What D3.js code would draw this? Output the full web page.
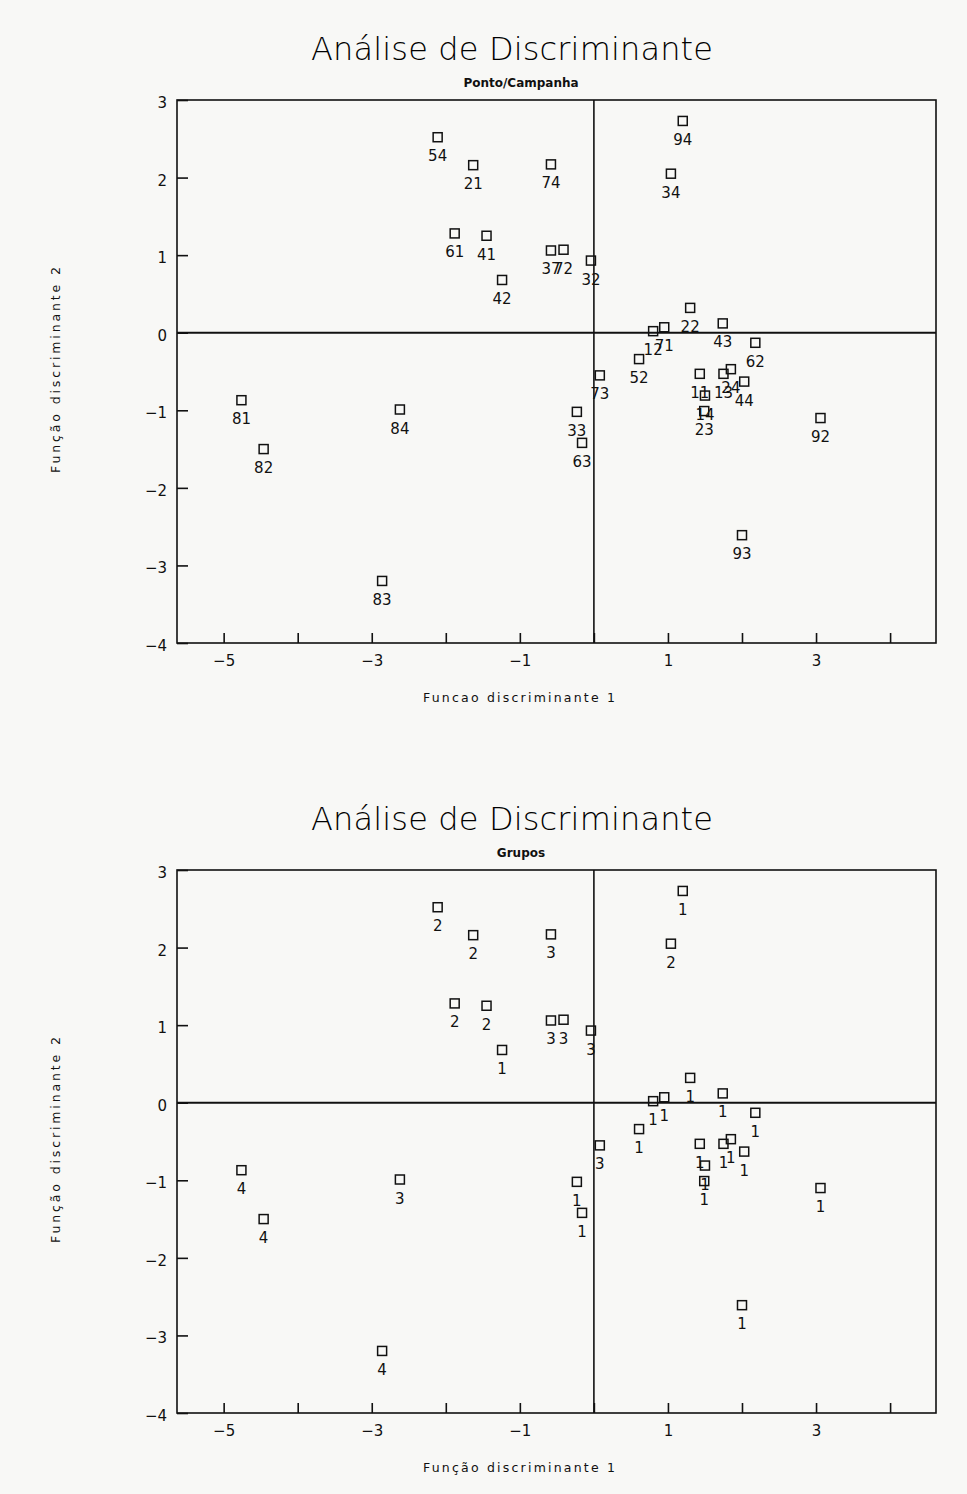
<!DOCTYPE html>
<meta charset="utf-8">
<style>
  body { margin: 0; background: #f8f8f6; }
  svg text { font-family: "DejaVu Sans", sans-serif; fill: #111; }
  .frame, .zero { fill: none; stroke: #111; stroke-width: 1.6px; }
  .axis path { display: none; }
  .axis line { stroke: #111; stroke-width: 1.6px; }
  .axis text { font-size: 15px; fill: #111; }
  .pt rect { fill: none; stroke: #111; stroke-width: 1.5px; }
  .pt text { font-size: 15px; text-anchor: middle; }
  .title { font-size: 32px; font-weight: 200; text-anchor: middle; fill: #000; }
  .sub { font-size: 12px; font-weight: bold; text-anchor: middle; }
  .atitle { font-size: 12.5px; text-anchor: middle; }
</style>
<body>
<script src="https://d3js.org/d3.v7.min.js"></script>
<script>

// point codes (ponto/campanha), discriminant scores and group
var codes  = ["54","21","74","61","41","37","72","32","42","94","34","22","43","12","71","62",
              "52","73","11","13","24","44","14","23","92","33","63","81","82","84","83","93"];
var func1  = [-2.11,-1.63,-0.58,-1.88,-1.45,-0.58,-0.41,-0.04,-1.24,1.20,1.04,1.30,1.74,0.80,0.95,2.18,
              0.61,0.08,1.43,1.75,1.85,2.03,1.50,1.49,3.06,-0.23,-0.16,-4.76,-4.46,-2.62,-2.86,2.00];
var func2  = [2.52,2.16,2.17,1.28,1.25,1.06,1.07,0.93,0.68,2.73,2.05,0.32,0.12,0.02,0.07,-0.13,
              -0.34,-0.55,-0.53,-0.53,-0.47,-0.63,-0.81,-1.01,-1.10,-1.02,-1.42,-0.87,-1.50,-0.99,-3.20,-2.61];
var groups = [2,2,3,2,2,3,3,3,1,1,2,1,1,1,1,1,
              1,3,1,1,1,1,1,1,1,1,1,4,4,3,4,1];

var xTicks = [-5,-4,-3,-2,-1,0,1,2,3,4];
var yTicks = [-4,-3,-2,-1,0,1,2,3];

var panels = [
  {sub: "Ponto/Campanha", xlab: "Funcao discriminante 1", labels: codes},
  {sub: "Grupos", xlab: "Função discriminante 1", labels: groups}
];

var svg = d3.select("body").append("svg")
    .attr("width", 967).attr("height", 1494);

var x = d3.scaleLinear().domain([-5.63, 4.62]).range([177, 936]);
var y = d3.scaleLinear().domain([3, -4]).range([100, 643]);

var points = codes.map(function(c, i) { return {i: i, x: func1[i], y: func2[i]}; });

panels.forEach(function(p, k) {
  var g = svg.append("g").attr("transform", "translate(0," + (k * 770) + ")");

  g.append("text").attr("class", "title")
      .attr("x", 512).attr("y", 60)
      .attr("textLength", 402).attr("lengthAdjust", "spacing")
      .text("Análise de Discriminante");

  g.append("text").attr("class", "sub")
      .attr("x", 521).attr("y", 87)
      .text(p.sub);

  // frame and zero lines
  g.append("rect").attr("class", "frame")
      .attr("x", x.range()[0]).attr("y", y.range()[0])
      .attr("width", x.range()[1] - x.range()[0])
      .attr("height", y.range()[1] - y.range()[0]);
  g.append("line").attr("class", "zero")
      .attr("x1", x(0)).attr("x2", x(0))
      .attr("y1", y.range()[0]).attr("y2", y.range()[1]);
  g.append("line").attr("class", "zero").style("stroke-width", "2px")
      .attr("x1", x.range()[0]).attr("x2", x.range()[1])
      .attr("y1", y(0)).attr("y2", y(0));

  g.append("g").attr("class", "axis")
      .attr("transform", "translate(0," + y.range()[1] + ")")
      .call(d3.axisBottom(x).tickValues(xTicks)
            .tickSizeInner(-10).tickSizeOuter(0).tickPadding(12)
            .tickFormat(function(d) { return d % 2 ? d3.format("d")(d) : ""; }));

  g.append("g").attr("class", "axis")
      .attr("transform", "translate(" + x.range()[0] + ",0)")
      .call(d3.axisLeft(y).tickValues(yTicks)
            .tickSizeInner(-11).tickSizeOuter(0).tickPadding(10)
            .tickFormat(d3.format("d")))
    .selectAll("text").attr("dy", "0.5em");

  g.append("text").attr("class", "atitle")
      .attr("x", 519).attr("y", 702)
      .attr("textLength", 192).attr("lengthAdjust", "spacing")
      .text(p.xlab);

  g.append("text").attr("class", "atitle")
      .attr("transform", "translate(60,370) rotate(-90)")
      .attr("textLength", 206).attr("lengthAdjust", "spacing")
      .text("Função discriminante 2");

  var pt = g.append("g").selectAll("g.pt")
      .data(points).enter().append("g")
      .attr("class", "pt")
      .attr("transform", function(d) { return "translate(" + x(d.x) + "," + y(d.y) + ")"; });

  pt.append("rect")
      .attr("x", -4.5).attr("y", -4.5)
      .attr("width", 9).attr("height", 9);

  pt.append("text")
      .attr("y", 24)
      .text(function(d) { return p.labels[d.i]; });
});

</script>
</body>
